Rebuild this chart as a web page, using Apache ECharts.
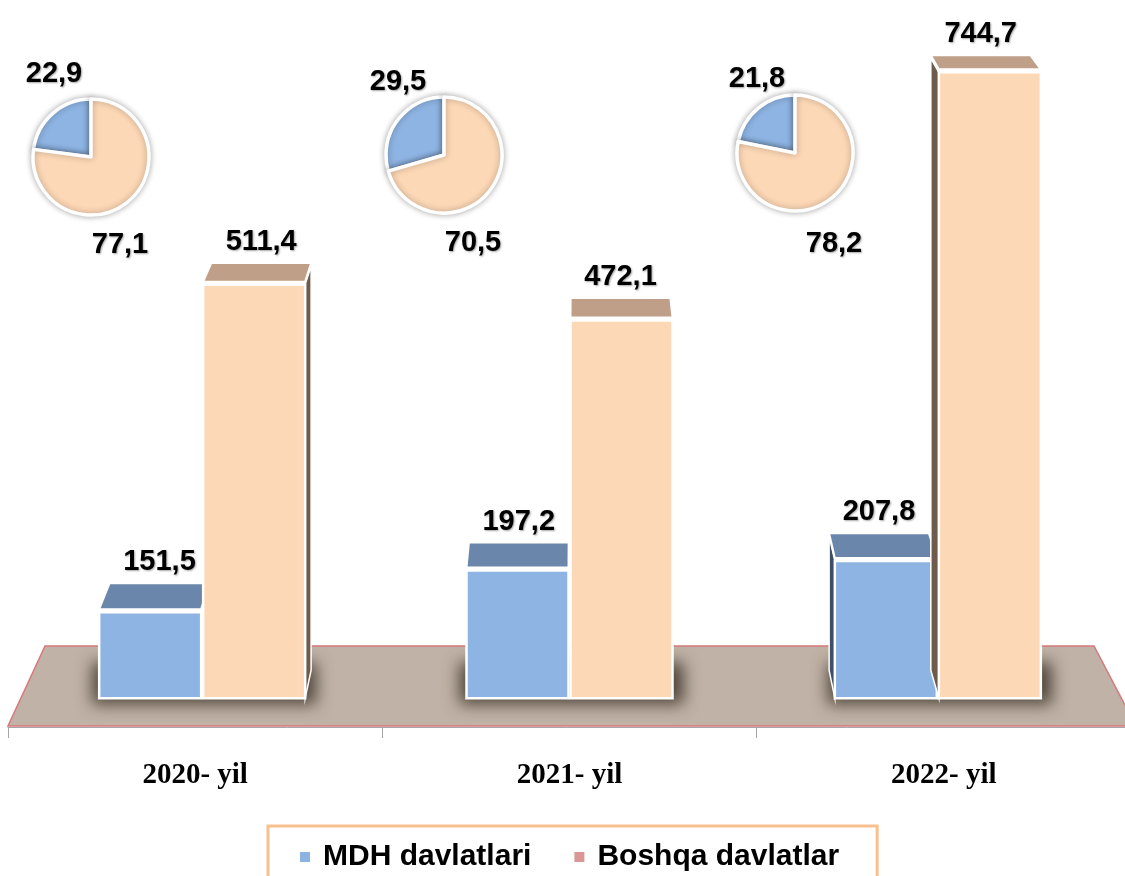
<!DOCTYPE html>
<html>
<head>
<meta charset="utf-8">
<script src="https://cdn.jsdelivr.net/npm/echarts@6/dist/echarts.min.js"></script>
<style>
html, body { margin: 0; padding: 0; background: #fff; }
#main { width: 1125px; height: 876px; }
</style>
</head>
<body>
<div id="main"></div>
<script>
var years = ['2020- yil', '2021- yil', '2022- yil'];
var mdhValues = [151.5, 197.2, 207.8];
var otherValues = [511.4, 472.1, 744.7];
var mdhShare = [22.9, 29.5, 21.8];
var otherShare = [77.1, 70.5, 78.2];

// fake 3D settings
var FLOOR = 57;            // value at which the floor plane cuts the bars
var VP = [575, -565];      // vanishing point
var DEPTH = 0.022;
var pairShift = [7, 0, -6];
var pieCenters = [[91, 157], [444, 155], [795, 153]];
var pieLabelOffsets = [
    [[-37, -83], [29, 88]],
    [[-46, -73], [29, 88]],
    [[-38, -74], [39, 91]]
];

var labelFamily = '"Liberation Sans", Arial, sans-serif';
var labelFont = 'bold 29px ' + labelFamily;

function fmt(v) {
    return v.toFixed(1).replace('.', ',');
}

function back(p) {
    return [p[0] + (VP[0] - p[0]) * DEPTH, p[1] + (VP[1] - p[1]) * DEPTH];
}

function boxRenderer(offset, c, isRight) {
    return function (params, api) {
        var i = api.value(0);
        var v = api.value(1);
        var top = api.coord([i, v]);
        var base = api.coord([i, FLOOR]);
        var cx = top[0] + pairShift[i] + offset;
        var x0 = cx - 51, x1 = cx + 51;
        var yT = top[1], yB = base[1];
        var bl = back([x0, yT]), br = back([x1, yT]);
        var bbl = back([x0, yB]), bbr = back([x1, yB]);
        var children = [];
        if (isRight && x1 < VP[0]) {
            children.push({
                type: 'polygon',
                shape: { points: [[x1, yT], br, bbr, [x1, yB]] },
                style: { fill: c.side, stroke: '#fff', lineWidth: 1.5 }
            });
        }
        if (x0 > VP[0]) {
            children.push({
                type: 'polygon',
                shape: { points: [[x0, yT], bl, bbl, [x0, yB]] },
                style: { fill: c.side, stroke: '#fff', lineWidth: 1.5 }
            });
        }
        children.push({
            type: 'polygon',
            shape: { points: [[x0, yT - 3], [x1, yT - 3], [br[0], br[1] - 3], [bl[0], bl[1] - 3]] },
            style: { fill: c.top, stroke: '#fff', lineWidth: 2 }
        });
        children.push({
            type: 'rect',
            shape: { x: x0, y: yT, width: x1 - x0, height: yB - yT },
            style: { fill: c.front, stroke: '#fff', lineWidth: 2.5 }
        });
        children.push({
            type: 'text',
            x: (bl[0] + br[0]) / 2,
            y: bl[1] - 24,
            style: {
                text: fmt(v),
                font: labelFont,
                fill: '#000',
                align: 'center',
                verticalAlign: 'middle',
                textShadowColor: 'rgba(0,0,0,0.35)',
                textShadowBlur: 2,
                textShadowOffsetX: 1,
                textShadowOffsetY: 1
            }
        });
        return { type: 'group', children: children };
    };
}

var myChart = echarts.init(document.getElementById('main'));

var blueColors = { front: '#8eb4e3', top: '#6a87ab', side: '#3f4f66' };
var peachColors = { front: '#fdd8b6', top: '#bf9f88', side: '#6e5b4c' };

var series = [
    {
        // soft floor shadow under each pair of bars (only the shadow is on screen)
        type: 'custom',
        silent: true,
        renderItem: function (params, api) {
            var i = api.value(0);
            var c = api.coord([i, FLOOR]);
            var cx = c[0] + pairShift[i];
            return {
                type: 'rect',
                shape: { x: cx - 110 - 3000, y: c[1] - 36, width: 224, height: 42 },
                style: {
                    fill: '#000',
                    shadowBlur: 16,
                    shadowOffsetX: 3000,
                    shadowColor: 'rgba(60,50,40,0.85)'
                }
            };
        },
        data: years.map(function (y, i) { return [i, 0]; })
    },
    {
        name: 'MDH davlatlari',
        type: 'custom',
        itemStyle: { color: '#8eb4e3' },
        renderItem: boxRenderer(-52, blueColors, false),
        data: mdhValues.map(function (v, i) { return [i, v]; })
    },
    {
        name: 'Boshqa davlatlar',
        type: 'custom',
        itemStyle: { color: '#fdd8b6' },
        renderItem: boxRenderer(52, peachColors, true),
        data: otherValues.map(function (v, i) { return [i, v]; })
    }
];

years.forEach(function (y, k) {
    series.push({
        type: 'pie',
        center: pieCenters[k],
        radius: 58,
        startAngle: 90,
        clockwise: false,
        itemStyle: {
            borderColor: '#fff',
            borderWidth: 3.5,
            shadowBlur: 6,
            shadowColor: 'rgba(0,0,0,0.3)'
        },
        label: {
            show: true,
            position: 'inside',
            formatter: function (p) { return fmt(p.value); },
            fontFamily: labelFamily,
            fontWeight: 'bold',
            fontSize: 29,
            color: '#000',
            textShadowColor: 'rgba(0,0,0,0.35)',
            textShadowBlur: 2,
            textShadowOffsetX: 1,
            textShadowOffsetY: 1
        },
        labelLine: { show: false },
        labelLayout: function (p) {
            var o = pieLabelOffsets[k][p.dataIndex];
            return {
                x: pieCenters[k][0] + o[0],
                y: pieCenters[k][1] + o[1],
                align: 'center',
                verticalAlign: 'middle'
            };
        },
        emphasis: { disabled: true },
        data: [
            { name: 'MDH davlatlari', value: mdhShare[k], itemStyle: { color: '#8eb4e3' } },
            { name: 'Boshqa davlatlar', value: otherShare[k], itemStyle: { color: '#fdd8b6' } }
        ]
    });
});

option = {
    backgroundColor: '#fff',
    animation: false,
    grid: { left: 8, width: 1123, top: 22, bottom: 126, outerBoundsMode: 'none' },
    legend: {
        left: 268,
        top: 826,
        icon: 'rect',
        itemWidth: 10,
        itemHeight: 10,
        itemGap: 43,
        padding: [16, 38, 20, 32],
        borderColor: '#f9c08f',
        borderWidth: 3,
        textStyle: {
            fontFamily: labelFamily,
            fontWeight: 'bold',
            fontSize: 30,
            color: '#000',
            padding: [0, 0, 0, 8]
        },
        data: [
            { name: 'MDH davlatlari', itemStyle: { color: '#8db3e2' } },
            { name: 'Boshqa davlatlar', itemStyle: { color: '#d99795' } }
        ]
    },
    graphic: [{
        type: 'polygon',
        z: -10,
        silent: true,
        shape: { points: [[45, 646], [1094, 646], [1136, 726], [8, 726]] },
        style: { fill: '#c0b2a6', stroke: '#d9787c', lineWidth: 1.5 }
    }],
    xAxis: {
        type: 'category',
        data: years,
        offset: -23,
        axisLine: { show: true, lineStyle: { color: '#a6a6a6', width: 1 } },
        axisTick: { show: true, interval: 0, length: 11, lineStyle: { color: '#a6a6a6' } },
        axisLabel: {
            margin: 34,
            color: '#000',
            fontFamily: '"Liberation Serif", "Times New Roman", serif',
            fontWeight: 'bold',
            fontSize: 29
        }
    },
    yAxis: { type: 'value', min: 0, max: 800, show: false },
    series: series
};

myChart.setOption(option);
</script>
</body>
</html>
